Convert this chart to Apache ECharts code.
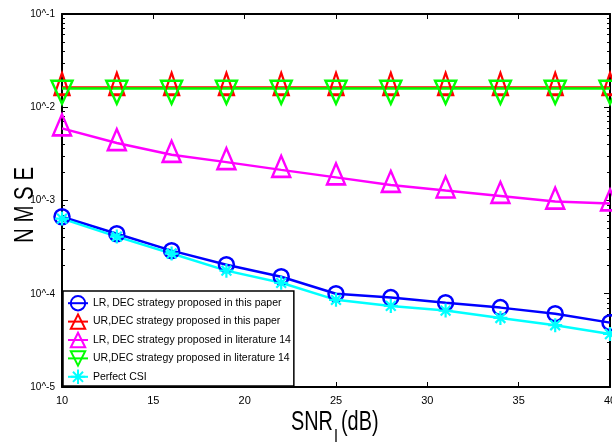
<!DOCTYPE html>
<html>
<head>
<meta charset="utf-8">
<script src="https://cdn.jsdelivr.net/npm/echarts@6/dist/echarts.min.js"></script>
<style>html,body{margin:0;padding:0;background:#fff}#c{width:612px;height:445px}</style>
</head>
<body>
<div id="c"></div>
<script>
const snr = [10, 13, 16, 19, 22, 25, 28, 31, 34, 37, 40];
const lrThisPaper = [6.7e-4, 4.4e-4, 2.9e-4, 2.05e-4, 1.52e-4, 1.0e-4, 9.1e-5, 8.0e-5, 7.1e-5, 6.1e-5, 4.9e-5];
const urThisPaper = [0.0163, 0.0163, 0.0163, 0.0163, 0.0163, 0.0163, 0.0163, 0.0163, 0.0163, 0.0163, 0.0163];
const lrLit14 = [5.94e-3, 4.13e-3, 3.09e-3, 2.58e-3, 2.13e-3, 1.77e-3, 1.47e-3, 1.28e-3, 1.12e-3, 9.75e-4, 9.3e-4];
const urLit14 = [0.0159, 0.0159, 0.0159, 0.0159, 0.0159, 0.0159, 0.0159, 0.0159, 0.0159, 0.0159, 0.0159];
const perfectCSI = [6.4e-4, 4.1e-4, 2.7e-4, 1.77e-4, 1.31e-4, 8.6e-5, 7.4e-5, 6.6e-5, 5.5e-5, 4.6e-5, 3.7e-5];
const seriesNames = [
  'LR, DEC strategy proposed in this paper',
  'UR,DEC strategy proposed in this paper',
  'LR, DEC strategy proposed in literature 14',
  'UR,DEC strategy proposed in literature 14',
  'Perfect CSI'
];
const yMin = 1e-5, yMax = 1e-1;
const xTickLabels = [10, 15, 20, 25, 30, 35, 40];
const yTitle = 'N M S E';
const xTitleMain = 'SNR', xTitleSub = 'I', xTitleUnit = '(dB)';

const REG = "'Liberation Sans', Arial, sans-serif";

const minorTicks = [];
for (let e = -5; e <= -2; e++) for (let m = 2; m <= 9; m++) minorTicks.push(+(m * Math.pow(10, e)).toPrecision(3));

function pairs(ys) { return snr.map((x, i) => [x, ys[i]]); }

const downTri = 'path://M0,0L20,0L10,22Z';
const asterisk = 'path://M10,0L10,20M0,10L20,10M3,3L17,17M17,3L3,17';

function mkSeries(name, ys, color, symbol, size, extra) {
  return Object.assign({
    name: name, type: 'line', data: pairs(ys),
    symbol: symbol, symbolSize: size, showAllSymbol: true, symbolKeepAspect: false,
    lineStyle: { color: color, width: 2.5 },
    itemStyle: { color: 'rgba(0,0,0,0)', borderColor: color, borderWidth: 2.5 },
    emphasis: { disabled: true }, animation: false, clip: false
  }, extra || {});
}

const yBase = {
  type: 'log', logBase: 10, min: yMin, max: yMax,
  splitLine: { show: false }, axisLine: { show: true, lineStyle: { color: '#000', width: 2 } }
};

const option = {
  animation: false,
  backgroundColor: '#fff',
  grid: { left: 62, right: 2, top: 14, bottom: 58, containLabel: false, outerBoundsMode: 'none' },
  xAxis: [
    {
      type: 'value', min: 10, max: 40, interval: 5, position: 'bottom',
      axisLine: { lineStyle: { color: '#000', width: 2 } },
      axisTick: { inside: true, length: 5, lineStyle: { color: '#000', width: 1 } },
      axisLabel: { color: '#000', fontSize: 11, fontFamily: REG, margin: 8,
        formatter: v => xTickLabels.indexOf(v) >= 0 ? String(v) : '' },
      splitLine: { show: false }
    },
    {
      type: 'value', min: 10, max: 40, interval: 5, position: 'top',
      axisLine: { lineStyle: { color: '#000', width: 2 } },
      axisTick: { inside: true, length: 5, lineStyle: { color: '#000', width: 1 } },
      axisLabel: { show: false }, splitLine: { show: false }
    }
  ],
  yAxis: [
    Object.assign({}, yBase, {
      position: 'left',
      axisTick: { inside: true, length: 6, lineStyle: { color: '#000', width: 1 } },
      axisLabel: { color: '#000', fontSize: 10, fontFamily: REG, margin: 7, padding: [4, 0, 0, 0],
        formatter: v => '10^' + Math.round(Math.log10(v)) }
    }),
    Object.assign({}, yBase, {
      position: 'left', axisLine: { show: false },
      axisTick: { inside: true, length: 3, customValues: minorTicks, lineStyle: { color: '#000', width: 1 } },
      axisLabel: { show: false }
    }),
    Object.assign({}, yBase, {
      position: 'right',
      axisTick: { inside: true, length: 6, lineStyle: { color: '#000', width: 1 } },
      axisLabel: { show: false }
    }),
    Object.assign({}, yBase, {
      position: 'right', axisLine: { show: false },
      axisTick: { inside: true, length: 3, customValues: minorTicks, lineStyle: { color: '#000', width: 1 } },
      axisLabel: { show: false }
    })
  ],
  legend: {
    orient: 'vertical', left: 63, top: 291,
    backgroundColor: '#fff', borderColor: '#000', borderWidth: 1.5,
    padding: [4, 3, 1, 4], itemWidth: 20, itemHeight: 18, itemGap: 2,
    textStyle: { color: '#000', fontSize: 10.5, fontFamily: REG },
    data: seriesNames
  },
  graphic: [
    { type: 'text', x: 25, y: 205, rotation: Math.PI / 2, scaleX: 0.73, silent: true,
      style: { text: yTitle, font: "28px 'Liberation Sans', Arial, sans-serif", fill: '#000', align: 'center', verticalAlign: 'middle' } },
    { type: 'text', x: 291, y: 422, scaleX: 0.71, silent: true,
      style: { text: xTitleMain, font: "28px 'Liberation Sans', Arial, sans-serif", fill: '#000', align: 'left', verticalAlign: 'middle' } },
    { type: 'text', x: 334, y: 437, scaleX: 0.8, silent: true,
      style: { text: xTitleSub, font: "18px 'Liberation Sans', Arial, sans-serif", fill: '#000', align: 'left', verticalAlign: 'middle' } },
    { type: 'text', x: 341, y: 422, scaleX: 0.71, silent: true,
      style: { text: xTitleUnit, font: "28px 'Liberation Sans', Arial, sans-serif", fill: '#000', align: 'left', verticalAlign: 'middle' } }
  ],
  series: [
    mkSeries(seriesNames[0], lrThisPaper, '#0000ff', 'circle', 15),
    mkSeries(seriesNames[1], urThisPaper, '#ff0000', 'triangle', [15, 22], { symbolOffset: [0, -3.7] }),
    mkSeries(seriesNames[2], lrLit14, '#ff00ff', 'triangle', [18, 21], { symbolOffset: [0, -3.5] }),
    mkSeries(seriesNames[3], urLit14, '#00ff00', downTri, [21, 23], { symbolOffset: [0, 3.8] }),
    mkSeries(seriesNames[4], perfectCSI, '#00ffff', asterisk, 14, {
      itemStyle: { color: 'rgba(0,0,0,0)', borderColor: '#00ffff', borderWidth: 2.2 }
    })
  ]
};

const chart = echarts.init(document.getElementById('c'), null, { renderer: 'canvas' });
chart.setOption(option);
</script>
</body>
</html>
